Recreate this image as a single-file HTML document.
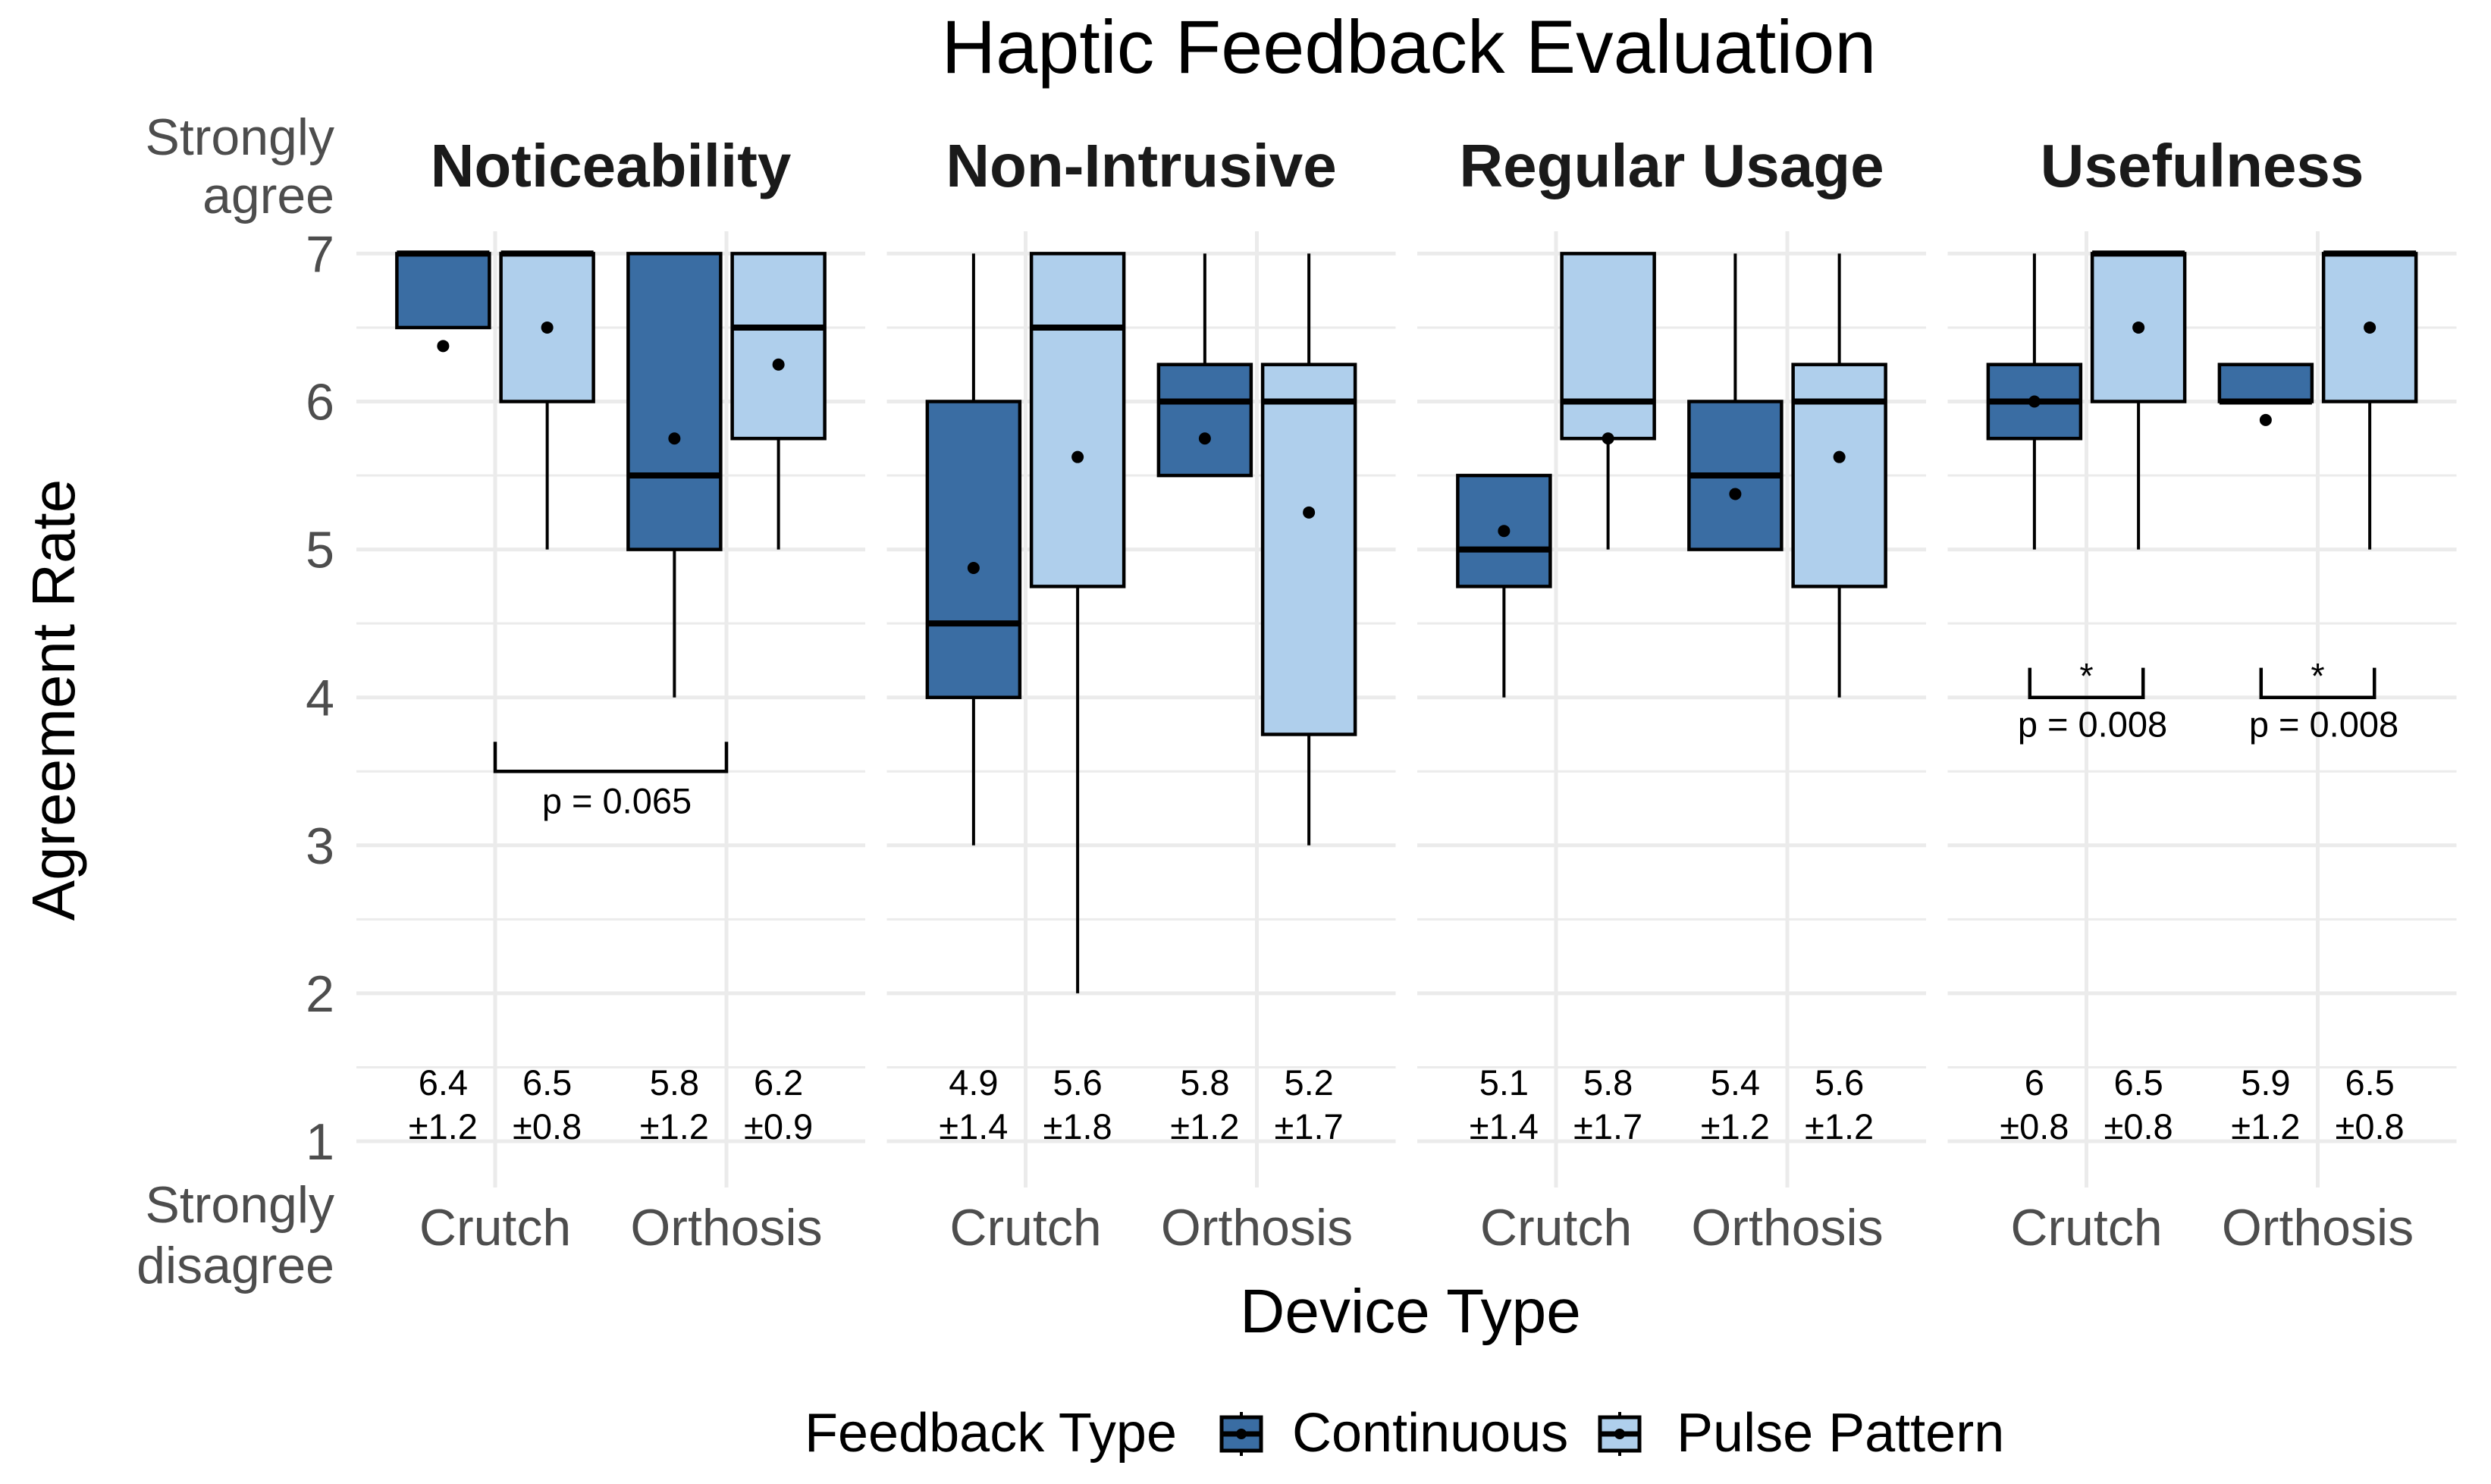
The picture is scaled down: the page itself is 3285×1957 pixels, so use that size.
<!DOCTYPE html>
<html><head><meta charset="utf-8"><style>
html,body{margin:0;padding:0;background:#fff;}
svg text{font-family:"Liberation Sans",Arial,sans-serif;}
</style></head><body>
<svg id="chart" width="3285" height="1952" viewBox="0 0 3285 1952" xmlns="http://www.w3.org/2000/svg">
<rect width="3285" height="1952" fill="#fff"/>
<text x="1858" y="96" font-size="99" text-anchor="middle" fill="#000">Haptic Feedback Evaluation</text>
<g id="axes"></g>
<g id="panels"></g>
<text transform="translate(98,923) rotate(-90)" font-size="80" text-anchor="middle" fill="#000">Agreement Rate</text>
<text x="1860" y="1757" font-size="82" text-anchor="middle" fill="#000">Device Type</text>
<g>
  <text x="1061" y="1914" font-size="72" fill="#000">Feedback Type</text>
  <g>
    <line x1="1637" y1="1862" x2="1637" y2="1920" stroke="#000" stroke-width="4"/>
    <rect x="1611" y="1869" width="52" height="44" fill="#3a6da3" stroke="#000" stroke-width="5"/>
    <line x1="1611" y1="1891" x2="1663" y2="1891" stroke="#000" stroke-width="7"/>
    <circle cx="1637" cy="1891" r="7" fill="#000"/>
    <text x="1704" y="1914" font-size="72" fill="#000">Continuous</text>
  </g>
  <g>
    <line x1="2136" y1="1862" x2="2136" y2="1920" stroke="#000" stroke-width="4"/>
    <rect x="2110" y="1869" width="52" height="44" fill="#afcfec" stroke="#000" stroke-width="5"/>
    <line x1="2110" y1="1891" x2="2162" y2="1891" stroke="#000" stroke-width="7"/>
    <circle cx="2136" cy="1891" r="7" fill="#000"/>
    <text x="2211" y="1914" font-size="72" fill="#000">Pulse Pattern</text>
  </g>
</g>
</svg>
<script>
const panelNames = ["Noticeability","Non-Intrusive","Regular Usage","Usefulness"];
const devices = ["Crutch","Orthosis"];
const feedbackTypes = ["Continuous","Pulse Pattern"];
// per panel: [CrutchCont, CrutchPulse, OrthoCont, OrthoPulse]
const q1 = [[6.5,6,5,5.75],[4,4.75,5.5,3.75],[4.75,5.75,5,4.75],[5.75,6,6,6]];
const med = [[7,7,5.5,6.5],[4.5,6.5,6,6],[5,6,5.5,6],[6,7,6,7]];
const q3 = [[7,7,7,7],[6,7,6.25,6.25],[5.5,7,6,6.25],[6.25,7,6.25,7]];
const wlo = [[6.5,5,4,5],[3,2,5.5,3],[4,5,5,4],[5,5,6,5]];
const whi = [[7,7,7,7],[7,7,7,7],[5.5,7,7,7],[7,7,6.25,7]];
const means = [[6.375,6.5,5.75,6.25],[4.875,5.625,5.75,5.25],[5.125,5.75,5.375,5.625],[6,6.5,5.875,6.5]];
const meanLabels = [["6.4","6.5","5.8","6.2"],["4.9","5.6","5.8","5.2"],["5.1","5.8","5.4","5.6"],["6","6.5","5.9","6.5"]];
const sdLabels = [["±1.2","±0.8","±1.2","±0.9"],["±1.4","±1.8","±1.2","±1.7"],["±1.4","±1.7","±1.2","±1.2"],["±0.8","±0.8","±1.2","±0.8"]];
const yTicks = [1,2,3,4,5,6,7];

const NS="http://www.w3.org/2000/svg";
const COL=["#3a6da3","#afcfec"];
const xUnit=305, panelW=2.2*xUnit, panelLeft0=470, panelStep=699.5;
const plotTop=305, plotBottom=1566;
function y(v){return 1505-(v-1)*195.1;}
function xCat(p,c){return panelLeft0+p*panelStep+(0.6+c)*xUnit;}
function xBox(p,c,f){return xCat(p,c)+(f===0?-0.225:0.225)*xUnit;}
function mk(tag,attrs,parent){const e=document.createElementNS(NS,tag);for(const k in attrs)e.setAttribute(k,attrs[k]);parent.appendChild(e);return e;}

const axes=document.getElementById('axes');
const panels=document.getElementById('panels');
yTicks.forEach(v=>{
  const t=mk('text',{x:441,y:y(v)+24,'font-size':68,'text-anchor':'end',fill:'#4d4d4d'},axes);
  
  
  t.textContent=v;
});
[["Strongly",204],["agree",281]].forEach(a=>{const t=mk('text',{x:441,y:a[1],'font-size':68,'text-anchor':'end',fill:'#4d4d4d'},axes);


t.textContent=a[0];});
[["Strongly",1612],["disagree",1692]].forEach(a=>{const t=mk('text',{x:441,y:a[1],'font-size':68,'text-anchor':'end',fill:'#4d4d4d'},axes);


t.textContent=a[0];});

panelNames.forEach((name,p)=>{
  const g=mk('g',{},panels);
  
  
  const L=panelLeft0+p*panelStep;
  for(let v=1.5;v<7;v+=1){mk('line',{x1:L,x2:L+panelW,y1:y(v),y2:y(v),stroke:'#ebebeb','stroke-width':3},g);}
  yTicks.forEach(v=>mk('line',{x1:L,x2:L+panelW,y1:y(v),y2:y(v),stroke:'#ebebeb','stroke-width':5},g));
  devices.forEach((d,c)=>mk('line',{x1:xCat(p,c),x2:xCat(p,c),y1:plotTop,y2:plotBottom,stroke:'#ebebeb','stroke-width':5},g));
  const st=mk('text',{x:L+panelW/2,y:246,'font-size':80,'font-weight':'bold','text-anchor':'middle',fill:'#1a1a1a'},g);
  
  
  st.textContent=name;
  devices.forEach((d,c)=>{const t=mk('text',{x:xCat(p,c),y:1642,'font-size':68,'text-anchor':'middle',fill:'#4d4d4d'},g);
    
    
    t.textContent=d;});
  for(let i=0;i<4;i++){
    const c=Math.floor(i/2), f=i%2, cx=xBox(p,c,f), hw=0.2*xUnit;
    const bg=mk('g',{},g);
    
    
    mk('line',{x1:cx,x2:cx,y1:y(whi[p][i]),y2:y(q3[p][i]),stroke:'#000','stroke-width':4},bg);
    mk('line',{x1:cx,x2:cx,y1:y(q1[p][i]),y2:y(wlo[p][i]),stroke:'#000','stroke-width':4},bg);
    mk('rect',{x:cx-hw,y:y(q3[p][i]),width:2*hw,height:Math.max(0.1,y(q1[p][i])-y(q3[p][i])),fill:COL[f],stroke:'#000','stroke-width':4.5},bg);
    mk('line',{x1:cx-hw,x2:cx+hw,y1:y(med[p][i]),y2:y(med[p][i]),stroke:'#000','stroke-width':8},bg);
    mk('circle',{cx:cx,cy:y(means[p][i]),r:8,fill:'#000'},bg);
    const t1=mk('text',{x:cx,y:1444,'font-size':47,'text-anchor':'middle',fill:'#000'},bg);
    t1.textContent=meanLabels[p][i];
    const t2=mk('text',{x:cx,y:1502,'font-size':47,'text-anchor':'middle',fill:'#000'},bg);
    t2.textContent=sdLabels[p][i];
  }
});
function bracket(x1,x2,yTop,yBar,label,ly,star,name){
  const g=mk('g',{},panels);
  
  
  mk('path',{d:`M${x1},${yTop} V${yBar} H${x2} V${yTop}`,fill:'none',stroke:'#000','stroke-width':4.5},g);
  if(star){const s=mk('text',{x:(x1+x2)/2,y:yBar-12,'font-size':47,'text-anchor':'middle',fill:'#000'},g);s.textContent='*';}
  const t=mk('text',{x:(x1+x2)/2+8,y:ly,'font-size':47,'text-anchor':'middle',fill:'#000'},g);t.textContent=label;
}
bracket(xCat(0,0),xCat(0,1),y(3.7),y(3.5),'p = 0.065',y(3.5)+55,false,'significance-noticeability');
bracket(xCat(3,0)-0.245*xUnit,xCat(3,0)+0.245*xUnit,y(4.2),y(4),'p = 0.008',y(4)+52,true,'significance-usefulness-crutch');
bracket(xCat(3,1)-0.245*xUnit,xCat(3,1)+0.245*xUnit,y(4.2),y(4),'p = 0.008',y(4)+52,true,'significance-usefulness-orthosis');
</script>
</body></html>
